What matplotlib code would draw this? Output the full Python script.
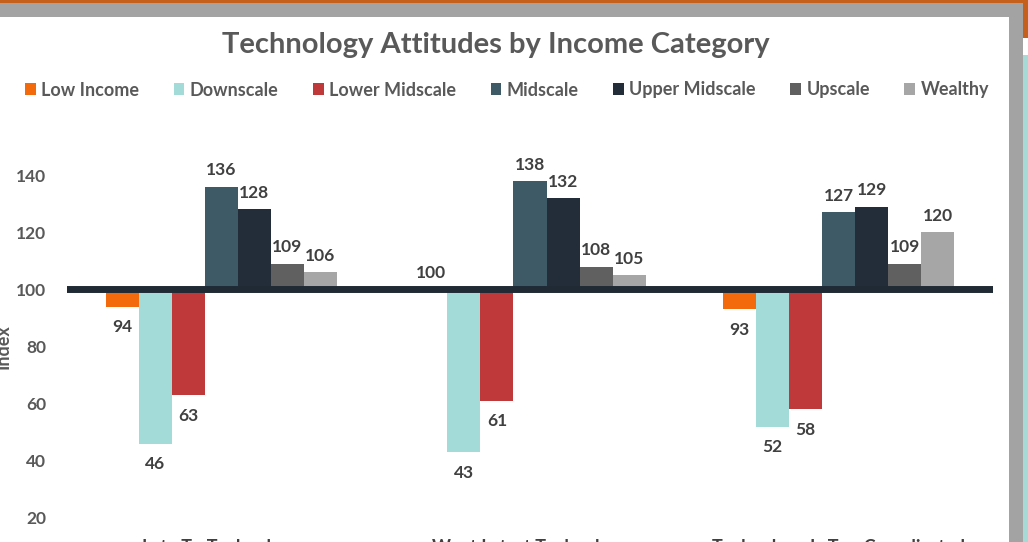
import matplotlib
matplotlib.use("Agg")
import matplotlib.pyplot as plt
import numpy as np
from matplotlib.patches import Rectangle

plt.rcParams['font.family'] = ['Lato', 'DejaVu Sans']

# data
categories = ['Late To Technology', 'Want Latest Technology', 'Technology Is Too Complicated']
series = ['Low Income', 'Downscale', 'Lower Midscale', 'Midscale',
          'Upper Midscale', 'Upscale', 'Wealthy']
low_income = [94, 100, 93]
downscale = [46, 43, 52]
lower_midscale = [63, 61, 58]
midscale = [136, 138, 127]
upper_midscale = [128, 132, 129]
upscale = [109, 108, 109]
wealthy = [106, 105, 120]
values = [low_income, downscale, lower_midscale, midscale,
          upper_midscale, upscale, wealthy]
colors = ['#f26a0c', '#a2dbd7', '#c0393a', '#3e5a66', '#232d39', '#606060', '#a6a6a6']
yticks = [20, 40, 60, 80, 100, 120, 140]

W, H = 1028, 542
fig = plt.figure(figsize=(W / 100, H / 100), dpi=100)

# screenshot frame around the chart
fig.patches.append(Rectangle((0, 1 - 17 / H), 1, 17 / H, transform=fig.transFigure,
                             facecolor='#a3a3a3', edgecolor='none', zorder=0))
fig.patches.append(Rectangle((0, 1 - 3 / H), 1, 3 / H, transform=fig.transFigure,
                             facecolor='#c45f1c', edgecolor='none', zorder=1))
fig.patches.append(Rectangle((1009 / W, 0), 14 / W, 1, transform=fig.transFigure,
                             facecolor='#a3a3a3', edgecolor='none', zorder=0))
fig.patches.append(Rectangle((1023 / W, 0), 5 / W, 1 - 55 / H, transform=fig.transFigure,
                             facecolor='#a6dad6', edgecolor='none', zorder=0))
fig.patches.append(Rectangle((1023 / W, 1 - 38 / H), 5 / W, 38 / H, transform=fig.transFigure,
                             facecolor='#c45f1c', edgecolor='none', zorder=1))

ax = fig.add_axes([67 / W, 24 / H, 926 / W, 400 / H])
ax.set_xlim(-0.5, 2.5)
ax.set_ylim(20, 160)

x = np.arange(len(categories))
w = 0.107
handles = []
for i, (name, vals, c) in enumerate(zip(series, values, colors)):
    vals = np.array(vals)
    pos = x + (i - 3) * w
    b = ax.bar(pos, vals - 100, bottom=100, width=w, color=c, label=name, zorder=2)
    handles.append(b)
    for px, v in zip(pos, vals):
        if v >= 100:
            ax.annotate(str(v), (px, v), xytext=(0, 6), textcoords='offset points',
                        ha='center', va='bottom', fontsize=12.5, fontweight='bold',
                        color='#404040')
        else:
            ax.annotate(str(v), (px, v), xytext=(0, -9), textcoords='offset points',
                        ha='center', va='top', fontsize=12.5, fontweight='bold',
                        color='#404040')

ax.axhline(100, color='#1f2a35', lw=5, zorder=3)

ax.set_yticks(yticks)
ax.set_yticklabels([str(t) for t in yticks], fontsize=12.5, fontweight='bold', color='#595959')
ax.set_xticks(x)
ax.set_xticklabels(categories, fontsize=13, fontweight='bold', color='#404040')
ax.tick_params(axis='y', length=0, pad=15)
ax.tick_params(axis='x', length=0, pad=15)
for s in ax.spines.values():
    s.set_visible(False)

fig.text(3 / W, 1 - 347 / H, 'Index', rotation=90, ha='center', va='center',
         fontsize=13, fontweight='bold', color='#595959')

fig.text(496 / W, 1 - 45 / H, 'Technology Attitudes by Income Category', ha='center',
         va='center', fontsize=21, fontweight='bold', color='#595959')

fig.legend(handles=handles, loc='center', bbox_to_anchor=(507 / W, 1 - 90 / H), ncol=7,
           frameon=False, handlelength=0.6, handleheight=0.6,
           handletextpad=0.3, columnspacing=1.9, labelcolor='#595959',
           prop={'weight': 'bold', 'size': 13})

fig.savefig('out.png', dpi=100)
